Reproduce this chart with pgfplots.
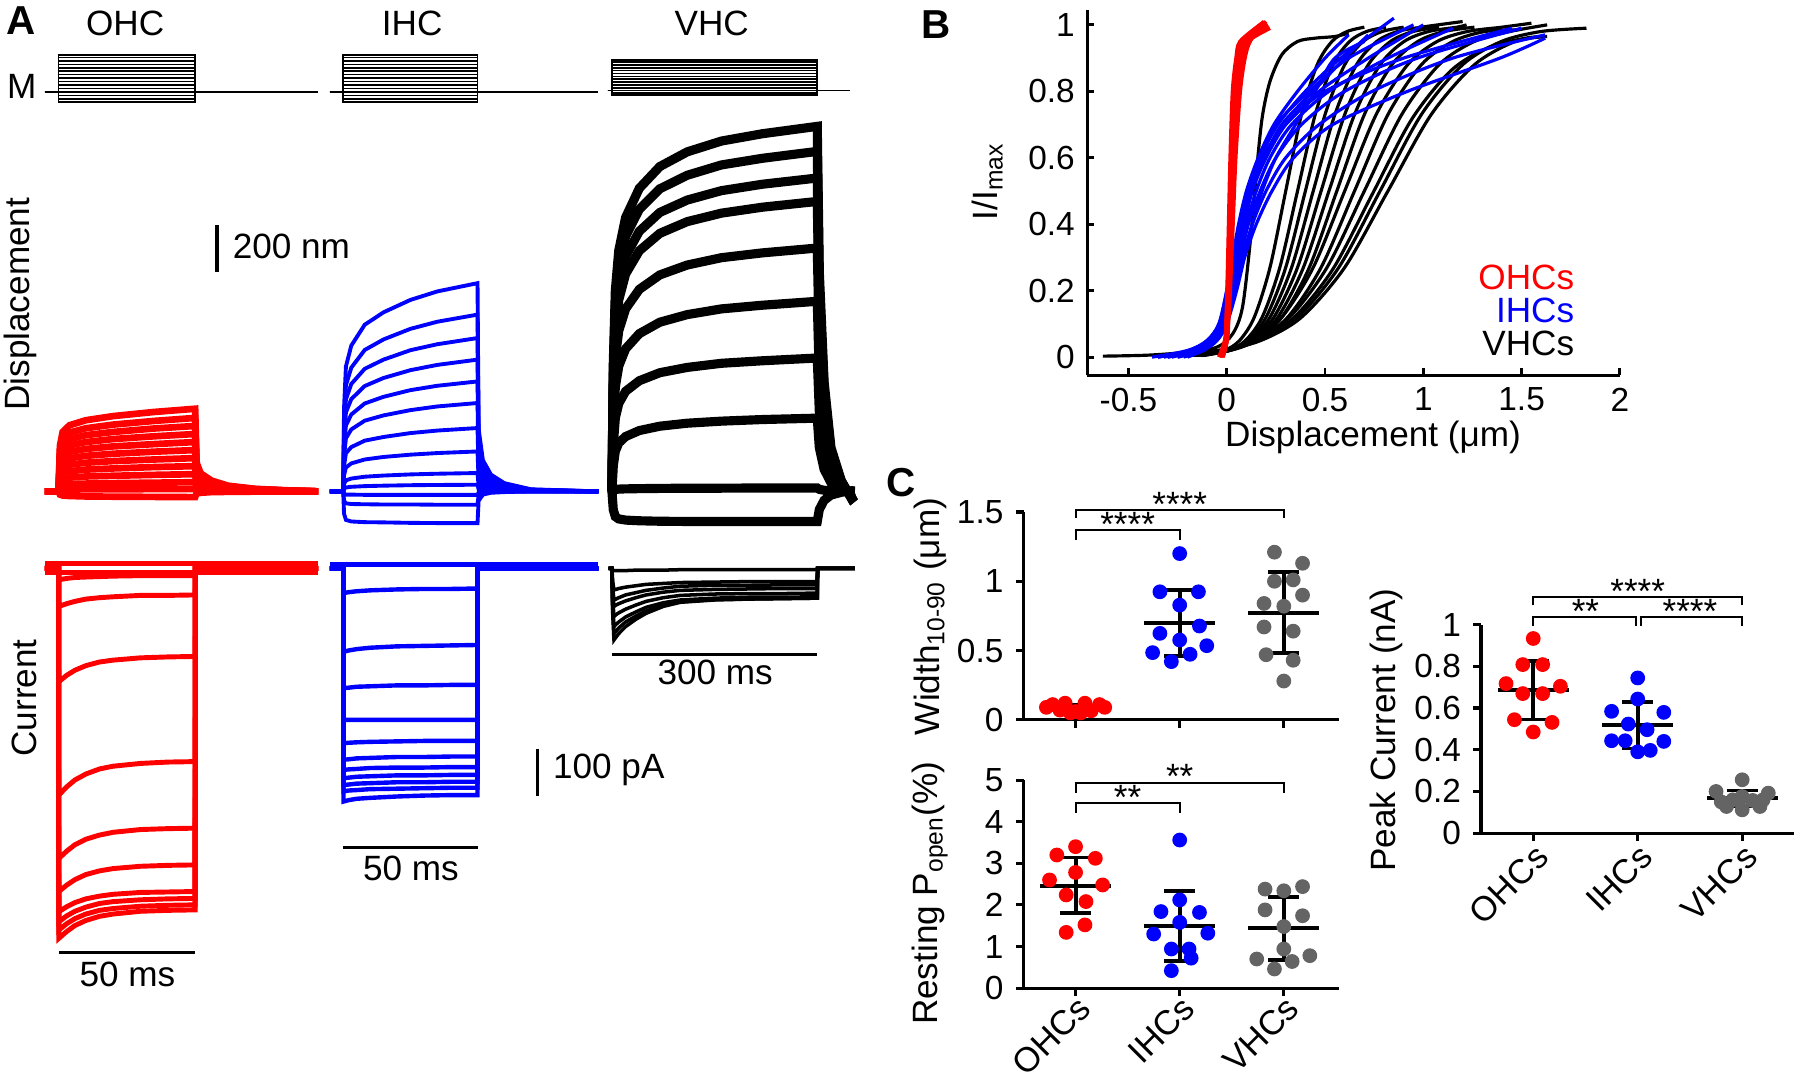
\documentclass[border=0pt]{standalone}
\usepackage{fontspec}
\setmainfont{Liberation Sans}
\usepackage{pgfplots}
\usepackage{pgfplotstable}
\pgfplotsset{compat=1.18}
\definecolor{vgray}{RGB}{100,100,100}
\newcommand\fL{\fontsize{10}{12}\selectfont}
\newcommand\fR{\fontsize{9.8}{11.5}\selectfont}
\newcommand\fT{\fontsize{9.5}{11}\selectfont}
\newcommand\fS{\fontsize{10}{11}\selectfont}
\newcommand\fP{\fontsize{11.5}{13}\selectfont\bfseries}

\pgfplotsset{
  trace/.style={hide axis, scale only axis, enlargelimits=false, clip=false, anchor=south west},
  cax/.style={scale only axis, anchor=south west, enlargelimits=false, clip=false,
    axis x line=bottom, axis y line=left, axis line style={-, line width=0.9pt},
    xtick align=outside, ytick align=outside, major tick length=2.2pt,
    tick style={black, line width=0.9pt}, xtick={1,2,3},
    tick label style={font=\fT}, /pgf/number format/assume math mode=true},
  eb/.style={black, line width=1.1pt},
  dot/.style={only marks, mark=*, mark size=1.9pt},
  blk/.style={black, line width=0.9pt, smooth},
  blu/.style={blue, line width=0.9pt, smooth},
  rd/.style={red, line width=1.1pt, smooth},
}

% ---------- stimulus (arbitrary units) ----------
\pgfplotstableread{
t a b c d e f g h i j k l m n o
-5 0 0 0 0 0 0 0 0 0 0 0 0 0 0 0
0 0 0 0 0 0 0 0 0 0 0 0 0 0 0 0
0 -9 -6 -3 0 3 6 9 12 15 18 21 24 27 30 32
50 -9 -6 -3 0 3 6 9 12 15 18 21 24 27 30 32
50 0 0 0 0 0 0 0 0 0 0 0 0 0 0 0
95 0 0 0 0 0 0 0 0 0 0 0 0 0 0 0
}\stimA
\pgfplotstableread{
t a b c d e f g h i j k l m n
-6 1 1 1 1 1 1 1 1 1 1 1 1 1 1
0 1 1 1 1 1 1 1 1 1 1 1 1 1 1
0 -3 -1 1 3.5 6 8.5 11 13.5 16 18.5 21 23.5 26 27.5
300 -3 -1 1 3.5 6 8.5 11 13.5 16 18.5 21 23.5 26 27.5
300 1 1 1 1 1 1 1 1 1 1 1 1 1 1
348 1 1 1 1 1 1 1 1 1 1 1 1 1 1
}\stimV

% ---------- displacement (nm) ----------
\pgfplotstableread{
t a b c d e f g h i j k l
-5 0 0 0 0 0 0 0 0 0 0 0 0
0 0 0 0 0 0 0 0 0 0 0 0 0
0.5 198 176 157 138 118 99 80 61 41 22 6 -14
1.5 259 230 205 180 155 130 104 79 54 29 7 -18
4 288 256 228 200 172 144 116 88 60 32 8 -20
10 310 275 245 215 185 155 125 95 65 34 9 -22
20 328 291 259 228 196 164 132 100 68 36 9 -23
35 346 307 274 240 206 173 139 106 72 38 10 -24
50 360 320 285 250 215 180 145 110 75 40 10 -25
50.5 126 112 100 88 75 63 51 39 26 14 4 -9
52 79 70 63 55 47 40 32 24 17 9 2 -6
56 47 42 37 33 28 23 19 14 10 5 1 -3
62 25 22 20 18 15 13 10 8 5 3 1 -2
72 11 10 9 8 6 5 4 3 2 1 0 -1
85 4 3 3 3 2 2 1 1 1 0 0 0
95 0 0 0 0 0 0 0 0 0 0 0 0
}\ohcD
\pgfplotstableread{
t a b c d e f g h i j k l m
-5 0 0 0 0 0 0 0 0 0 0 0 0 0
0 0 0 0 0 0 0 0 0 0 0 0 0 0
0.3 363 308 267 230 192 154 110 70 32 12 -11 -41 -97
1 544 462 401 344 287 231 166 104 48 17 -14 -52 -124
3 635 539 468 402 335 270 193 122 56 20 -14 -55 -131
8 726 616 534 459 383 308 221 139 64 23 -15 -56 -134
15 780 662 574 494 412 331 237 150 69 25 -15 -57 -135
25 834 708 615 528 441 354 254 160 74 27 -15 -57 -137
35 871 739 641 551 460 370 265 167 77 28 -15 -58 -138
50 907 770 668 574 479 385 276 174 80 29 -15 -58 -138
50.4 272 231 200 172 144 116 83 52 24 9 -5 -17 -41
52 136 116 100 86 72 58 41 26 12 4 -2 -6 -14
55 73 62 53 46 38 31 22 14 6 2 -1 -2 -6
60 36 31 27 23 19 15 11 7 3 1 0 -1 -3
70 9 8 7 6 5 4 3 2 1 0 0 0 0
95 0 0 0 0 0 0 0 0 0 0 0 0 0
}\ihcD
\pgfplotstableread{
t a b c d e f g h i j
-5 0 0 0 0 0 0 0 0 0 0
0 0 0 0 0 0 0 0 0 0 0
2 557 518 478 442 371 290 203 112 5 -80
5 875 815 751 695 583 455 320 175 8 -110
10 1049 977 901 834 700 546 383 211 10 -120
20 1193 1111 1024 947 795 621 436 239 11 -125
40 1320 1229 1133 1048 880 687 482 265 12 -128
70 1415 1318 1215 1124 943 737 517 284 13 -130
110 1479 1377 1269 1175 986 770 540 297 14 -131
160 1526 1422 1310 1212 1018 795 558 306 14 -131
220 1558 1451 1338 1238 1039 811 569 313 15 -131
300 1590 1481 1365 1263 1060 828 581 319 15 -131
303 954 889 819 758 636 497 349 191 9 -79
310 477 444 410 379 318 248 174 96 5 -39
320 191 178 164 152 127 99 70 38 2 -16
335 48 44 41 38 32 25 17 10 0 -4
350 -32 -30 -27 -25 -21 -17 -12 -6 0 3
355 -20 -18 -16 -15 -12 -10 -7 -4 0 2
}\vhcD

% ---------- current (pA) ----------
\pgfplotstableread{
t a b c d e f g h i j k l
-5 0 0 0 0 0 0 0 0 0 10 -10 0
0 0 0 0 0 0 0 0 0 0 10 -10 0
0.1 -83 -247 -494 -632 -704 -748 -770 -788 -806 10 -10 -25
3 -77 -233 -476 -616 -690 -737 -757 -774 -791 10 -10 -22
6 -72 -222 -461 -602 -678 -728 -747 -763 -778 10 -10 -20
10 -67 -212 -448 -590 -667 -720 -738 -753 -767 10 -10 -19
15 -64 -204 -437 -581 -659 -714 -730 -745 -758 10 -10 -18
20 -62 -200 -431 -575 -654 -710 -726 -741 -753 10 -10 -17
30 -59 -195 -425 -569 -649 -706 -722 -736 -747 10 -10 -16
40 -59 -193 -422 -567 -647 -705 -720 -734 -745 10 -10 -16
50 -58 -192 -421 -566 -646 -704 -719 -733 -744 10 -10 -16
50.1 0 0 0 0 0 0 0 0 0 10 -10 0
95 0 0 0 0 0 0 0 0 0 10 -10 0
}\ohcI
\pgfplotstableread{
t a b c d e f g h i j k l
-5 0 0 0 0 0 0 0 0 0 0 0 8
0 0 0 0 0 0 0 0 0 0 0 0 8
0.1 -54 -182 -261 -330 -381 -417 -439 -457 -472 -486 -508 8
2 -52 -179 -260 -330 -380 -416 -438 -456 -471 -484 -505 8
5 -50 -176 -258 -330 -379 -414 -437 -454 -469 -483 -502 8
10 -48 -173 -257 -330 -378 -413 -435 -453 -468 -481 -500 8
20 -46 -170 -255 -330 -377 -411 -434 -451 -466 -480 -497 8
30 -45 -169 -255 -330 -376 -411 -434 -451 -466 -479 -495 8
40 -45 -168 -254 -330 -376 -410 -433 -450 -465 -478 -494 8
50 -44 -167 -254 -330 -376 -410 -433 -450 -465 -478 -494 8
50.1 0 0 0 0 0 0 0 0 0 0 0 8
95 0 0 0 0 0 0 0 0 0 0 0 8
}\ihcI
\pgfplotstableread{
t a b c d e f g h
-5 0 0 0 0 0 0 0 0
0 0 0 0 0 0 0 0 0
1 -28 -41 -50 -63 -76 -85 -94 -3
3 -47 -69 -83 -105 -127 -142 -156 -5
6 -46 -67 -80 -101 -122 -137 -150 -5
10 -44 -64 -77 -97 -117 -130 -142 -5
20 -41 -58 -71 -89 -106 -117 -127 -5
35 -38 -53 -64 -80 -95 -104 -111 -4
50 -35 -48 -58 -72 -85 -93 -98 -4
75 -33 -43 -52 -64 -75 -80 -83 -4
100 -31 -39 -48 -59 -69 -73 -74 -3
150 -30 -37 -46 -56 -65 -68 -69 -3
200 -29 -37 -45 -55 -63 -67 -67 -3
250 -29 -36 -44 -55 -63 -66 -66 -3
300 -29 -36 -44 -54 -62 -65 -65 -3
300.5 0 0 0 0 0 0 0 0
355 0 0 0 0 0 0 0 0
}\vhcI

\begin{document}
\begin{tikzpicture}
\path[use as bounding box] (0,0) rectangle (180mm,-108.03mm);

% ================= Panel A: stimulus =================
\begin{axis}[trace, at={(4.489mm,-10.906mm)}, width=27.32mm, height=6.314mm,
  xmin=-5, xmax=95, ymin=-15, ymax=40]
\pgfplotsinvokeforeach{a,b,c,d,e,f,g,h,i,j,k,l,m,n,o}{\addplot[black, line width=0.45pt] table[x=t,y=#1]{\stimA};}
\end{axis}
\begin{axis}[trace, at={(32.98mm,-10.906mm)}, width=26.86mm, height=6.314mm,
  xmin=-5, xmax=95, ymin=-15, ymax=40]
\pgfplotsinvokeforeach{a,b,c,d,e,f,g,h,i,j,k,l,m,n,o}{\addplot[black, line width=0.45pt] table[x=t,y=#1]{\stimA};}
\end{axis}
\begin{axis}[trace, at={(60.85mm,-10.906mm)}, width=24.64mm, height=6.314mm,
  xmin=-5, xmax=355, ymin=-15, ymax=40]
\pgfplotsinvokeforeach{a,b,c,d,e,f,g,h,i,j,k,l,m,n}{\addplot[black, line width=0.45pt] table[x=t,y=#1]{\stimV};}
\end{axis}

% ================= Panel A: displacement =================
\begin{axis}[trace, at={(4.489mm,-53.73mm)}, width=27.32mm, height=43.62mm,
  xmin=-5, xmax=95, ymin=-200, ymax=1700]
\pgfplotsinvokeforeach{a,b,c,d,e,f,g,h,i,j,k,l}{\addplot[red, line width=1.9pt] table[x=t,y=#1]{\ohcD};}
\end{axis}
\begin{axis}[trace, at={(32.98mm,-53.73mm)}, width=26.86mm, height=43.62mm,
  xmin=-5, xmax=95, ymin=-200, ymax=1700]
\pgfplotsinvokeforeach{a,b,c,d,e,f,g,h,i,j,k,l,m}{\addplot[blue, line width=1.1pt] table[x=t,y=#1]{\ihcD};}
\end{axis}
\begin{axis}[trace, at={(60.85mm,-53.73mm)}, width=24.64mm, height=43.62mm,
  xmin=-5, xmax=355, ymin=-200, ymax=1700]
\pgfplotsinvokeforeach{a,b,c,d,e,f,g,h,i,j}{\addplot[black, line width=2.6pt] table[x=t,y=#1]{\vhcD};}
\end{axis}

% ================= Panel A: current =================
\begin{axis}[trace, at={(4.489mm,-98.15mm)}, width=27.32mm, height=43.62mm,
  xmin=-5, xmax=95, ymin=-900, ymax=50]
\pgfplotsinvokeforeach{a,b,c,d,e,f,g,h,i,j,k,l}{\addplot[red, line width=1.4pt] table[x=t,y=#1]{\ohcI};}
\end{axis}
\begin{axis}[trace, at={(32.98mm,-98.15mm)}, width=26.86mm, height=43.62mm,
  xmin=-5, xmax=95, ymin=-900, ymax=50]
\pgfplotsinvokeforeach{a,b,c,d,e,f,g,h,i,j,k,l}{\addplot[blue, line width=1.25pt] table[x=t,y=#1]{\ihcI};}
\end{axis}
\begin{axis}[trace, at={(60.85mm,-98.15mm)}, width=24.64mm, height=43.62mm,
  xmin=-5, xmax=355, ymin=-900, ymax=50]
\pgfplotsinvokeforeach{a,b,c,d,e,f,g,h}{\addplot[black, line width=1.0pt] table[x=t,y=#1]{\vhcI};}
\end{axis}

% ================= Panel B =================
\begin{axis}[at={(108.72mm,-37.54mm)}, anchor=south west, scale only axis,
  width=53.27mm, height=36.55mm, xmin=-0.71, xmax=2, ymin=-0.055, ymax=1.045,
  enlargelimits=false, clip=false,
  axis x line=bottom, axis y line=left, axis line style={-, line width=0.9pt},
  xtick align=inside, ytick align=inside, major tick length=2pt,
  tick style={black, line width=0.8pt},
  xtick={-0.5,0,0.5,1,1.5,2}, ytick={0,0.2,0.4,0.6,0.8,1},
  tick label style={font=\fT}, /pgf/number format/assume math mode=true]
% VHCs
\addplot[blk] coordinates {(-0.63,0.003) (-0.4,0.006) (-0.2,0.015) (-0.05,0.03) (0.03,0.07) (0.08,0.15) (0.12,0.35) (0.15,0.55) (0.18,0.72) (0.22,0.83) (0.28,0.91) (0.36,0.95) (0.45,0.96) (0.55,0.965) (0.62,0.975)};
\addplot[blk] coordinates {(-0.124,0.005) (-0.012,0.02) (0.065,0.05) (0.14,0.12) (0.22,0.27) (0.30,0.5) (0.38,0.73) (0.46,0.88) (0.535,0.95) (0.612,0.98) (0.70,0.993)};
\addplot[blk] coordinates {(-0.117,0.005) (0.009,0.02) (0.095,0.05) (0.18,0.12) (0.27,0.27) (0.36,0.5) (0.45,0.73) (0.54,0.88) (0.625,0.95) (0.711,0.98) (0.81,0.993)};
\addplot[blk] coordinates {(-0.13,0.005) (0.01,0.02) (0.106,0.05) (0.2,0.12) (0.3,0.27) (0.4,0.5) (0.5,0.73) (0.6,0.88) (0.694,0.95) (0.79,0.98) (0.9,0.993)};
\addplot[blk] coordinates {(-0.143,0.005) (0.011,0.02) (0.117,0.05) (0.22,0.12) (0.33,0.27) (0.44,0.5) (0.55,0.73) (0.66,0.88) (0.763,0.95) (0.869,0.98) (0.99,0.993) (1.2,1.01)};
\addplot[blk] coordinates {(-0.156,0.005) (0.012,0.02) (0.127,0.05) (0.24,0.12) (0.36,0.27) (0.48,0.5) (0.60,0.73) (0.72,0.88) (0.833,0.95) (0.948,0.98) (1.08,0.993)};
\addplot[blk] coordinates {(-0.169,0.005) (0.013,0.02) (0.138,0.05) (0.26,0.12) (0.39,0.27) (0.52,0.5) (0.65,0.73) (0.78,0.88) (0.902,0.95) (1.027,0.98) (1.17,0.993) (1.22,1.0)};
\addplot[blk] coordinates {(-0.182,0.005) (0.014,0.02) (0.148,0.05) (0.28,0.12) (0.42,0.27) (0.56,0.5) (0.70,0.73) (0.84,0.88) (0.972,0.95) (1.106,0.98) (1.26,0.993)};
\addplot[blk] coordinates {(-0.248,0.005) (-0.024,0.02) (0.13,0.05) (0.28,0.12) (0.44,0.27) (0.6,0.5) (0.76,0.73) (0.92,0.88) (1.07,0.95) (1.224,0.98) (1.4,0.993) (1.55,1.005)};
\addplot[blk] coordinates {(-0.251,0.005) (-0.013,0.02) (0.15,0.05) (0.31,0.12) (0.48,0.27) (0.65,0.5) (0.82,0.73) (0.99,0.88) (1.15,0.95) (1.313,0.98) (1.48,0.985)};
\addplot[blk] coordinates {(-0.307,0.005) (-0.041,0.02) (0.141,0.05) (0.32,0.12) (0.51,0.27) (0.70,0.5) (0.89,0.73) (1.08,0.88) (1.259,0.95) (1.441,0.98) (1.63,1.0)};
\addplot[blk] coordinates {(-0.32,0.005) (-0.04,0.02) (0.152,0.049) (0.34,0.118) (0.54,0.265) (0.74,0.49) (0.94,0.715) (1.14,0.862) (1.328,0.931) (1.52,0.96) (1.62,0.965)};
\addplot[blk] coordinates {(-0.333,0.005) (-0.039,0.02) (0.163,0.05) (0.36,0.12) (0.57,0.27) (0.78,0.5) (0.99,0.73) (1.20,0.88) (1.397,0.95) (1.599,0.98) (1.83,0.99)};
\addplot[blk] coordinates {(-0.346,0.005) (-0.038,0.02) (0.173,0.05) (0.38,0.12) (0.60,0.27) (0.82,0.5) (1.04,0.73) (1.26,0.88) (1.467,0.95) (1.63,0.965)};
% IHCs
\addplot[blu] coordinates {(-0.38,0) (-0.2,0.02) (-0.1,0.05) (-0.04,0.1) (0.0,0.2) (0.03,0.3) (0.06,0.4) (0.1,0.5) (0.16,0.6) (0.24,0.7) (0.36,0.8) (0.5,0.9) (0.62,0.97)};
\addplot[blu] coordinates {(-0.35,0) (-0.18,0.02) (-0.09,0.05) (-0.03,0.1) (0.01,0.2) (0.04,0.3) (0.07,0.4) (0.11,0.5) (0.17,0.6) (0.26,0.7) (0.40,0.8) (0.58,0.9) (0.85,1.02)};
\addplot[blu] coordinates {(-0.3,0) (-0.17,0.02) (-0.08,0.05) (-0.03,0.1) (0.01,0.2) (0.05,0.3) (0.08,0.4) (0.12,0.5) (0.19,0.6) (0.28,0.7) (0.44,0.8) (0.6,0.9) (0.72,0.97)};
\addplot[blu] coordinates {(-0.3,0) (-0.16,0.02) (-0.08,0.05) (-0.02,0.1) (0.02,0.2) (0.05,0.3) (0.09,0.4) (0.13,0.5) (0.2,0.6) (0.3,0.7) (0.47,0.8) (0.72,0.9) (1.0,1.0)};
\addplot[blu] coordinates {(-0.28,0) (-0.15,0.02) (-0.07,0.05) (-0.02,0.1) (0.02,0.2) (0.06,0.3) (0.1,0.4) (0.15,0.5) (0.22,0.6) (0.33,0.7) (0.52,0.8) (0.82,0.9) (1.15,0.99)};
\addplot[blu] coordinates {(-0.25,0) (-0.14,0.02) (-0.07,0.05) (-0.01,0.1) (0.03,0.2) (0.07,0.3) (0.11,0.4) (0.17,0.5) (0.25,0.6) (0.38,0.7) (0.6,0.8) (0.97,0.9) (1.5,0.99)};
\addplot[blu] coordinates {(-0.25,0) (-0.13,0.02) (-0.06,0.05) (-0.01,0.1) (0.03,0.2) (0.08,0.3) (0.13,0.4) (0.2,0.5) (0.3,0.6) (0.47,0.7) (0.74,0.8) (1.15,0.9) (1.62,0.97)};
\addplot[blu] coordinates {(-0.22,0) (-0.12,0.02) (-0.05,0.05) (0.0,0.1) (0.04,0.2) (0.09,0.3) (0.15,0.4) (0.23,0.5) (0.34,0.6) (0.54,0.7) (0.92,0.8) (1.39,0.9) (1.62,0.96)};
\addplot[blu] coordinates {(-0.35,0) (-0.19,0.02) (-0.1,0.05) (-0.04,0.1) (0.0,0.2) (0.03,0.3) (0.07,0.4) (0.11,0.5) (0.17,0.6) (0.25,0.7) (0.42,0.8) (0.62,0.9) (0.95,1.0)};
\addplot[blu] coordinates {(-0.32,0) (-0.17,0.02) (-0.09,0.05) (-0.03,0.1) (0.01,0.2) (0.04,0.3) (0.08,0.4) (0.12,0.5) (0.18,0.6) (0.3,0.7) (0.5,0.8) (0.9,0.9) (1.45,0.99)};
\addplot[blu] coordinates {(-0.2,0) (-0.12,0.02) (-0.05,0.05) (0.0,0.1) (0.05,0.2) (0.09,0.3) (0.13,0.4) (0.18,0.5) (0.25,0.6) (0.35,0.7) (0.45,0.8) (0.55,0.9) (0.7,0.95)};
% OHCs
\addplot[rd] coordinates {(-0.04,0) (-0.01,0.05) (-0.004,0.1) (0.002,0.2) (0.01,0.4) (0.018,0.6) (0.03,0.8) (0.048,0.9) (0.068,0.95) (0.17,1.0)};
\addplot[rd] coordinates {(-0.035,0) (-0.008,0.05) (-0.002,0.1) (0.004,0.2) (0.013,0.4) (0.022,0.6) (0.036,0.8) (0.055,0.9) (0.076,0.95) (0.19,1.01)};
\addplot[rd] coordinates {(-0.03,0) (-0.006,0.05) (0.0,0.1) (0.006,0.2) (0.016,0.4) (0.026,0.6) (0.042,0.8) (0.062,0.9) (0.085,0.95) (0.2,1.0)};
\addplot[rd] coordinates {(-0.03,0) (-0.004,0.05) (0.002,0.1) (0.009,0.2) (0.02,0.4) (0.031,0.6) (0.048,0.8) (0.07,0.9) (0.095,0.95) (0.21,1.0)};
\addplot[rd] coordinates {(-0.025,0) (-0.002,0.05) (0.004,0.1) (0.012,0.2) (0.024,0.4) (0.036,0.6) (0.055,0.8) (0.078,0.9) (0.105,0.95) (0.22,0.99)};
\addplot[rd] coordinates {(-0.02,0) (0.0,0.05) (0.006,0.1) (0.015,0.2) (0.028,0.4) (0.041,0.6) (0.062,0.8) (0.086,0.9) (0.112,0.95) (0.2,1.01)};
\addplot[rd] coordinates {(-0.02,0) (0.002,0.05) (0.008,0.1) (0.017,0.2) (0.031,0.4) (0.045,0.6) (0.068,0.8) (0.092,0.9) (0.118,0.95) (0.18,1.0)};
\end{axis}

% ================= Panel C: Width =================
\begin{axis}[cax, at={(102.35mm,-71.98mm)}, width=31.55mm, height=20.78mm,
  xmin=0.5, xmax=3.53, ymin=0, ymax=1.5, ytick={0,0.5,1,1.5}, xticklabels={}]
\addplot[dot, red] coordinates {(0.78,0.11) (0.9,0.12) (1.09,0.12) (1.23,0.11) (0.85,0.07) (1.0,0.06) (1.15,0.065) (0.95,0.05) (1.05,0.05) (0.72,0.09) (1.28,0.09)};
\addplot[dot, blue] coordinates {(2,1.2) (1.81,0.924) (2.18,0.924) (2,0.828) (1.81,0.624) (2.19,0.677) (2,0.576) (1.74,0.485) (1.92,0.42) (2.1,0.473) (2.26,0.535)};
\addplot[dot, vgray] coordinates {(2.91,1.21) (3.18,1.13) (2.91,1.0) (3.09,1.01) (3.18,0.9) (2.81,0.84) (3.0,0.82) (2.81,0.67) (3.09,0.64) (2.83,0.47) (3.09,0.43) (3.0,0.28)};
\addplot[eb] coordinates {(0.66,0.09) (1.34,0.09)};
\addplot[eb] coordinates {(0.85,0.11) (1.15,0.11)};
\addplot[eb] coordinates {(0.85,0.07) (1.15,0.07)};
\addplot[eb] coordinates {(1,0.07) (1,0.11)};
\addplot[eb] coordinates {(1.66,0.70) (2.34,0.70)};
\addplot[eb] coordinates {(1.85,0.94) (2.15,0.94)};
\addplot[eb] coordinates {(1.85,0.46) (2.15,0.46)};
\addplot[eb] coordinates {(2,0.46) (2,0.94)};
\addplot[eb] coordinates {(2.66,0.77) (3.34,0.77)};
\addplot[eb] coordinates {(2.85,1.07) (3.15,1.07)};
\addplot[eb] coordinates {(2.85,0.48) (3.15,0.48)};
\addplot[eb] coordinates {(3,0.48) (3,1.07)};
\draw[line width=0.6pt] (axis cs:1,1.458) -- (axis cs:1,1.516) -- (axis cs:3,1.516) -- (axis cs:3,1.458);
\draw[line width=0.6pt] (axis cs:1,1.30) -- (axis cs:1,1.367) -- (axis cs:2,1.367) -- (axis cs:2,1.30);
\node[anchor=base, inner sep=0pt, font=\fS, yshift=-1.8pt] at (axis cs:2,1.516) {****};
\node[anchor=base, inner sep=0pt, font=\fS, yshift=-1.8pt] at (axis cs:1.5,1.367) {****};
\end{axis}

% ================= Panel C: Popen =================
\begin{axis}[cax, at={(102.35mm,-98.81mm)}, width=31.55mm, height=20.80mm,
  xmin=0.5, xmax=3.53, ymin=0, ymax=5, ytick={0,1,2,3,4,5},
  xticklabels={OHCs,IHCs,VHCs}, xticklabel style={yshift=5.5pt, rotate=45, anchor=north east, font=\fR}]
\addplot[dot, red] coordinates {(1.0,3.4) (0.82,3.2) (1.19,3.12) (1.0,2.78) (0.75,2.6) (1.26,2.48) (0.91,2.24) (1.1,2.08) (1.09,1.52) (0.91,1.34)};
\addplot[dot, blue] coordinates {(2.0,3.56) (2.0,2.12) (1.82,1.84) (2.19,1.82) (2.0,1.58) (1.75,1.30) (2.27,1.32) (1.92,0.94) (2.09,0.94) (2.11,0.72) (1.92,0.42)};
\addplot[dot, vgray] coordinates {(2.82,2.38) (3.0,2.34) (3.18,2.44) (2.82,1.88) (3.18,1.74) (3.0,1.48) (3.0,0.94) (2.74,0.7) (3.25,0.78) (3.08,0.64) (2.91,0.46)};
\addplot[eb] coordinates {(0.66,2.46) (1.34,2.46)};
\addplot[eb] coordinates {(0.85,3.14) (1.15,3.14)};
\addplot[eb] coordinates {(0.85,1.8) (1.15,1.8)};
\addplot[eb] coordinates {(1,1.8) (1,3.14)};
\addplot[eb] coordinates {(1.66,1.5) (2.34,1.5)};
\addplot[eb] coordinates {(1.85,2.33) (2.15,2.33)};
\addplot[eb] coordinates {(1.85,0.66) (2.15,0.66)};
\addplot[eb] coordinates {(2,0.66) (2,2.33)};
\addplot[eb] coordinates {(2.66,1.44) (3.34,1.44)};
\addplot[eb] coordinates {(2.85,2.2) (3.15,2.2)};
\addplot[eb] coordinates {(2.85,0.67) (3.15,0.67)};
\addplot[eb] coordinates {(3,0.67) (3,2.2)};
\draw[line width=0.6pt] (axis cs:1,4.69) -- (axis cs:1,4.94) -- (axis cs:3,4.94) -- (axis cs:3,4.69);
\draw[line width=0.6pt] (axis cs:1,4.22) -- (axis cs:1,4.44) -- (axis cs:2,4.44) -- (axis cs:2,4.22);
\node[anchor=base, inner sep=0pt, font=\fS, yshift=-1.8pt] at (axis cs:2,4.94) {**};
\node[anchor=base, inner sep=0pt, font=\fS, yshift=-1.8pt] at (axis cs:1.5,4.44) {**};
\end{axis}

% ================= Panel C: Peak current =================
\begin{axis}[cax, at={(148.1mm,-83.32mm)}, width=31.34mm, height=20.87mm,
  xmin=0.5, xmax=3.5, ymin=0, ymax=1, ytick={0,0.2,0.4,0.6,0.8,1},
  xticklabels={OHCs,IHCs,VHCs}, xticklabel style={yshift=4.5pt, rotate=45, anchor=north east, font=\fR}]
\addplot[dot, red] coordinates {(1.0,0.933) (0.9,0.808) (1.09,0.808) (0.74,0.717) (1.26,0.704) (0.9,0.669) (1.09,0.669) (0.82,0.544) (1.18,0.531) (1.0,0.485)};
\addplot[dot, blue] coordinates {(2.0,0.744) (2.0,0.643) (1.75,0.584) (2.25,0.579) (1.91,0.523) (2.09,0.496) (1.75,0.443) (1.88,0.443) (2.25,0.44) (2.0,0.39) (2.12,0.397)};
\addplot[dot, vgray] coordinates {(3.0,0.256) (2.75,0.2) (3.25,0.192) (2.91,0.16) (3.1,0.157) (2.85,0.128) (3.0,0.112) (3.17,0.128) (3.0,0.176) (2.8,0.15) (3.2,0.16)};
\addplot[eb] coordinates {(0.66,0.685) (1.34,0.685)};
\addplot[eb] coordinates {(0.85,0.826) (1.15,0.826)};
\addplot[eb] coordinates {(0.85,0.545) (1.15,0.545)};
\addplot[eb] coordinates {(1,0.545) (1,0.826)};
\addplot[eb] coordinates {(1.66,0.518) (2.34,0.518)};
\addplot[eb] coordinates {(1.85,0.627) (2.15,0.627)};
\addplot[eb] coordinates {(1.85,0.406) (2.15,0.406)};
\addplot[eb] coordinates {(2,0.406) (2,0.627)};
\addplot[eb] coordinates {(2.66,0.168) (3.34,0.168)};
\addplot[eb] coordinates {(2.85,0.205) (3.15,0.205)};
\addplot[eb] coordinates {(2.85,0.13) (3.15,0.13)};
\addplot[eb] coordinates {(3,0.13) (3,0.205)};
\draw[line width=0.6pt] (axis cs:1,1.092) -- (axis cs:1,1.131) -- (axis cs:3,1.131) -- (axis cs:3,1.092);
\draw[line width=0.6pt] (axis cs:1,0.994) -- (axis cs:1,1.035) -- (axis cs:1.98,1.035) -- (axis cs:1.98,0.994);
\draw[line width=0.6pt] (axis cs:2.03,0.994) -- (axis cs:2.03,1.035) -- (axis cs:3,1.035) -- (axis cs:3,0.994);
\node[anchor=base, inner sep=0pt, font=\fS, yshift=-1.8pt] at (axis cs:2,1.131) {****};
\node[anchor=base, inner sep=0pt, font=\fS, yshift=-1.8pt] at (axis cs:1.5,1.035) {**};
\node[anchor=base, inner sep=0pt, font=\fS, yshift=-1.8pt] at (axis cs:2.5,1.035) {****};
\end{axis}

% ================= annotations (in reference pixel units) =================
\begin{scope}[x=0.1148mm, y=-0.1148mm]
\node[font=\fP] at (18,18) {A};
\node[font=\fP] at (815,21) {B};
\node[font=\fP] at (785,420) {C};
\node[font=\fL] at (109,20) {OHC};
\node[font=\fL] at (359,20) {IHC};
\node[font=\fL] at (620,20) {VHC};
\node[font=\fL] at (19,75) {M};
\node[font=\fL, rotate=90] at (18,265) {Displacement};
\node[font=\fL, rotate=90] at (21,608) {Current};
% scale bars
\draw[line width=0.9pt] (189,196) -- (189,237);
\node[font=\fL, anchor=west] at (192,215) {200 nm};
\draw[line width=0.9pt] (468,652) -- (468,693);
\node[font=\fL, anchor=west] at (471,671) {100 pA};
\draw[line width=0.9pt] (51,830) -- (170,830);
\node[font=\fL] at (111,849) {50 ms};
\draw[line width=0.9pt] (299,738) -- (416,738);
\node[font=\fL] at (358,756) {50 ms};
\draw[line width=0.9pt] (533,570) -- (712,570);
\node[font=\fL] at (623,586) {300 ms};
% panel B labels
\node[font=\fL, rotate=90] at (860,158) {I/I\textsubscript{max}};
\node[font=\fL] at (1196,381) {Displacement (μm)};
\node[font=\fL, anchor=east, text=red] at (1382,242) {OHCs};
\node[font=\fL, anchor=east, text=blue] at (1382,270) {IHCs};
\node[font=\fL, anchor=east, text=black] at (1382,299) {VHCs};
% panel C labels
\node[font=\fL, rotate=90] at (810,537) {Width\textsubscript{10-90} (μm)};
\node[font=\fL, rotate=90] at (810,778) {Resting P\textsubscript{open}(\%)};
\node[font=\fL, rotate=90] at (1208,636) {Peak Current (nA)};
\end{scope}
\end{tikzpicture}
\end{document}
